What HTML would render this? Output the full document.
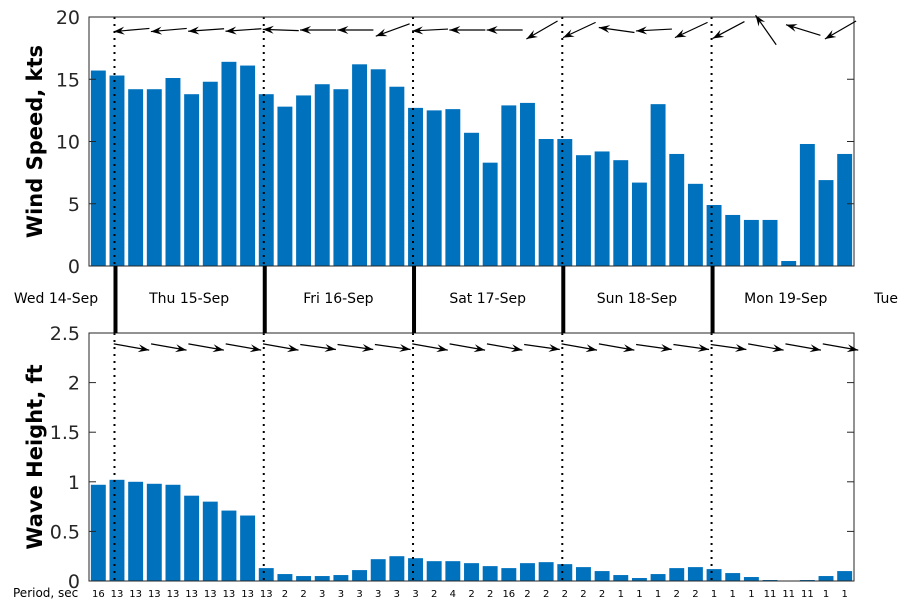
<!DOCTYPE html>
<html><head><meta charset="utf-8"><style>
body{margin:0;background:#fff;}
svg text{font-family:"DejaVu Sans","Liberation Sans",sans-serif;}
</style></head><body>
<svg id="chart" width="900" height="600" xmlns="http://www.w3.org/2000/svg"></svg>
<script>
const windSpeed=[15.7,15.3,14.2,14.2,15.1,13.8,14.8,16.4,16.1,13.8,12.8,13.7,14.6,14.2,16.2,15.8,14.4,12.7,12.5,12.6,10.7,8.3,12.9,13.1,10.2,10.2,8.9,9.2,8.5,6.7,13.0,9.0,6.6,4.9,4.1,3.7,3.7,0.4,9.8,6.9,9.0];
const waveHeight=[0.97,1.02,1.0,0.98,0.97,0.86,0.80,0.71,0.66,0.13,0.07,0.05,0.05,0.06,0.11,0.22,0.25,0.23,0.20,0.20,0.18,0.15,0.13,0.18,0.19,0.17,0.14,0.10,0.06,0.03,0.07,0.13,0.14,0.12,0.08,0.04,0.01,0.0,0.01,0.05,0.10];
const periods=[16,13,13,13,13,13,13,13,13,13,2,2,3,3,3,3,3,3,2,4,2,2,16,2,2,2,2,2,1,1,1,2,2,1,1,1,11,11,11,1,1];
const windDir=[185,185,184,184,178,180,180,200,183,180,180,210,205,172,183,205,208,125,163,210];
const waveDir=[350,350,350,350,350,352,352,352,350,350,350,352,350,350,352,352,352,350,350,350];
const dayLabels=["Wed 14-Sep","Thu 15-Sep","Fri 16-Sep","Sat 17-Sep","Sun 18-Sep","Mon 19-Sep","Tue"];
const windTicks=[0,5,10,15,20];
const waveTicks=[0,0.5,1,1.5,2,2.5];
const dayStart=1.366;

const svg=document.getElementById('chart');
const NS='http://www.w3.org/2000/svg';
function mk(tag,attrs,parent){const e=document.createElementNS(NS,tag);for(const k in attrs)e.setAttribute(k,attrs[k]);(parent||svg).appendChild(e);return e;}
const X0=89,X1=854,N=windSpeed.length,step=(X1-X0)/N;
function xs(i){return X0+(i+0.5)*step;}
function xEdge(v){return X0+v*step;}
const topAx={y0:266,y1:17,max:20}, botAx={y0:581,y1:333,max:2.5};
function ys(ax,v){return ax.y0-(v/ax.max)*(ax.y0-ax.y1);}
const dayX=[];for(let k=0;k<5;k++)dayX.push(xEdge(dayStart+8*k));

function panel(ax,vals,ticks,title,name,dirs,arrowY,fmt){
  const g=mk('g',{});
  
  
  vals.forEach((v,i)=>{
    const y=ys(ax,v);
    const r=mk('rect',{x:xs(i)-step*0.4,y:y,width:step*0.8,height:ax.y0-y,fill:'#0072bd'},g);
    
    
  });
  dayX.forEach((x,k)=>{
    const l=mk('line',{x1:x,x2:x,y1:ax.y1,y2:ax.y0,stroke:'#000','stroke-width':2,'stroke-dasharray':'2,5'},g);
    
    
  });
  const box=mk('rect',{x:X0,y:ax.y1,width:X1-X0,height:ax.y0-ax.y1,fill:'none',stroke:'#262626','stroke-width':1},g);
  
  
  ticks.forEach(t=>{
    const y=ys(ax,t);
    mk('line',{x1:X0,x2:X0+7,y1:y,y2:y,stroke:'#262626'},g);
    mk('line',{x1:X1-7,x2:X1,y1:y,y2:y,stroke:'#262626'},g);
    const tx=mk('text',{x:80,y:y+7,'text-anchor':'end','font-size':19,fill:'#262626'},g);
    tx.textContent=fmt(t);
    
    
  });
  const cy=(ax.y0+ax.y1)/2;
  const tt=mk('text',{x:0,y:0,transform:`translate(42,${cy}) rotate(-90)`,'text-anchor':'middle','font-size':21,'font-weight':'bold',fill:'#000'},g);
  tt.textContent=title;
  
  
  dirs.forEach((d,k)=>{
    const cx=xEdge(dayStart)+k*2*step+17, L=36;
    const a=d*Math.PI/180, dx=Math.cos(a)*L/2, dy=-Math.sin(a)*L/2;
    const hx=cx+dx,hy=arrowY+dy,tx0=cx-dx,ty0=arrowY-dy;
    const ag=mk('g',{},g);
    
    
    mk('line',{x1:tx0,y1:ty0,x2:hx,y2:hy,stroke:'#000','stroke-width':1.2},ag);
    const ux=Math.cos(a),uy=-Math.sin(a),px=-uy,py=ux;
    const bx=hx-ux*11,by=hy-uy*11,mx=hx-ux*7,my=hy-uy*7;
    mk('polygon',{points:`${hx},${hy} ${bx+px*4},${by+py*4} ${mx},${my} ${bx-px*4},${by-py*4}`,fill:'#000'},ag);
  });
}
panel(topAx,windSpeed,windTicks,'Wind Speed, kts','wind',windDir,30,t=>String(t));
panel(botAx,waveHeight,waveTicks,'Wave Height, ft','wave',waveDir,347,t=>String(t));

dayX.forEach((x,k)=>{
  const l=mk('line',{x1:x+1,x2:x+1,y1:266,y2:333,stroke:'#000','stroke-width':4});
  
  
});
const labX=[56,(dayX[0]+dayX[1])/2,(dayX[1]+dayX[2])/2,(dayX[2]+dayX[3])/2,(dayX[3]+dayX[4])/2,(dayX[4]+X1)/2+3,886];
dayLabels.forEach((d,k)=>{
  const t=mk('text',{x:labX[k],y:303,'text-anchor':'middle','font-size':14,fill:'#000'});
  t.textContent=d;
  
  
});
const pl=mk('text',{x:13,y:597,'font-size':12,fill:'#000'});
pl.textContent='Period, sec';


periods.forEach((p,i)=>{
  const t=mk('text',{x:xs(i),y:597,'text-anchor':'middle','font-size':10,fill:'#000'});
  t.textContent=p;
  
  
});
</script>
</body></html>
